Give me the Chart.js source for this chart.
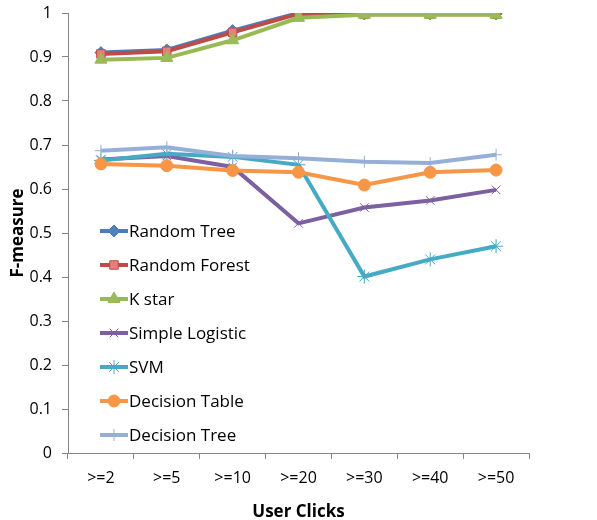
<!DOCTYPE html>
<html>
<head>
<meta charset="utf-8">
<script src="https://cdn.jsdelivr.net/npm/chart.js@4.4.1/dist/chart.umd.min.js"></script>
<style>
  html, body { margin: 0; padding: 0; background: #fff; }
  #wrap { width: 597px; height: 520px; }
</style>
</head>
<body>
<div id="wrap"><canvas id="chart" width="597" height="520"></canvas></div>
<script>
'use strict';

let clicks = ['>=2', '>=5', '>=10', '>=20', '>=30', '>=40', '>=50'];
let seriesNames = ['Random Tree', 'Random Forest', 'K star', 'Simple Logistic', 'SVM', 'Decision Table', 'Decision Tree'];

let randomTree = [0.910, 0.916, 0.960, 1.000, 0.998, 0.998, 0.998];
let randomForest = [0.907, 0.913, 0.956, 0.998, 0.997, 0.997, 0.997];
let kStar = [0.894, 0.898, 0.938, 0.989, 0.996, 0.996, 0.996];
let simpleLogistic = [0.667, 0.675, 0.650, 0.522, 0.558, 0.574, 0.598];
let svm = [0.665, 0.680, 0.673, 0.655, 0.401, 0.440, 0.470];
let decisionTable = [0.657, 0.653, 0.642, 0.638, 0.609, 0.638, 0.643];
let decisionTree = [0.687, 0.695, 0.675, 0.670, 0.662, 0.659, 0.678];

let yTicks = [0, 0.1, 0.2, 0.3, 0.4, 0.5, 0.6, 0.7, 0.8, 0.9, 1];

let font = "'Open Sans', sans-serif";
let canvasElem = document.getElementById('chart');

function makeSet(i, values, color, fill, style, radius) {
  return {
    label: seriesNames[i],
    data: values,
    borderColor: color,
    backgroundColor: fill,
    borderWidth: 4,
    pointStyle: style,
    pointRadius: radius,
    pointBorderWidth: 1,
    pointBorderColor: color,
    pointBackgroundColor: fill,
    tension: 0,
    order: 10 - i
  };
}

// legend drawn inside the plot area, like the original
let insideLegend = {
  id: 'insideLegend',
  afterDraw(chart) {
    let ctx = chart.ctx;
    let x0 = 100, x1 = 128, y = 231;
    chart.data.datasets.forEach(ds => {
      ctx.save();
      ctx.strokeStyle = ds.borderColor;
      ctx.lineWidth = 4;
      ctx.beginPath();
      ctx.moveTo(x0, y);
      ctx.lineTo(x1, y);
      ctx.stroke();
      ctx.fillStyle = ds.pointBackgroundColor;
      ctx.strokeStyle = ds.pointBorderColor;
      ctx.lineWidth = 1;
      Chart.helpers.drawPoint(ctx, {pointStyle: ds.pointStyle, radius: ds.pointRadius, borderWidth: 1}, (x0 + x1) / 2, y);
      ctx.fillStyle = '#000';
      ctx.font = '17px ' + font;
      ctx.textBaseline = 'middle';
      ctx.fillText(ds.label, x1 + 1, y + 1);
      ctx.restore();
      y += 34;
    });
  }
};

let chartObj = {
  type: 'line',
  data: {
    labels: clicks,
    datasets: [
      makeSet(0, randomTree, '#4A7EBB', '#4F81BD', 'rectRot', 6),
      makeSet(1, randomForest, '#BE4B48', '#E6807D', 'rect', 6),
      makeSet(2, kStar, '#98B954', '#9BBB59', 'triangle', 7),
      makeSet(3, simpleLogistic, '#7D60A0', '#7D60A0', 'crossRot', 6),
      makeSet(4, svm, '#46AAC5', '#46AAC5', 'star', 7),
      makeSet(5, decisionTable, '#F79646', '#F79646', 'circle', 6),
      makeSet(6, decisionTree, '#95AFD8', '#95AFD8', 'cross', 6)
    ]
  },
  options: {
    responsive: false,
    animation: false,
    layout: { padding: { top: 13, right: 68, left: 0, bottom: 0 } },
    plugins: {
      legend: { display: false },
      tooltip: { enabled: false }
    },
    scales: {
      x: {
        offset: true,
        grid: { display: true, drawOnChartArea: false, drawTicks: true, tickLength: 6, color: '#868686', offset: true },
        border: { color: '#868686', width: 1 },
        ticks: { color: '#000', font: { family: font, size: 16 }, padding: 10, maxRotation: 0 },
        title: { display: true, text: 'User Clicks', color: '#000', font: { family: font, size: 17, weight: 'bold' }, padding: { top: 4, bottom: -2 } },
        afterFit(s) { s.height = 67; }
      },
      y: {
        min: 0,
        max: 1,
        afterBuildTicks(s) { s.ticks = yTicks.map(v => ({ value: v })); },
        grid: { display: true, drawOnChartArea: false, drawTicks: true, tickLength: 6, color: '#868686' },
        border: { color: '#868686', width: 1 },
        ticks: {
          color: '#000',
          font: { family: font, size: 16 },
          padding: 10,
          callback: v => String(Math.round(v * 10) / 10)
        },
        title: { display: true, text: 'F-measure', color: '#000', font: { family: font, size: 17, weight: 'bold' }, padding: { top: 8, bottom: 4 } },
        afterFit(s) { s.width = 68; s.paddingTop = 0; s.paddingBottom = 0; }
      }
    }
  },
  plugins: [insideLegend]
};

new Chart(canvasElem, chartObj);
</script>
</body>
</html>
